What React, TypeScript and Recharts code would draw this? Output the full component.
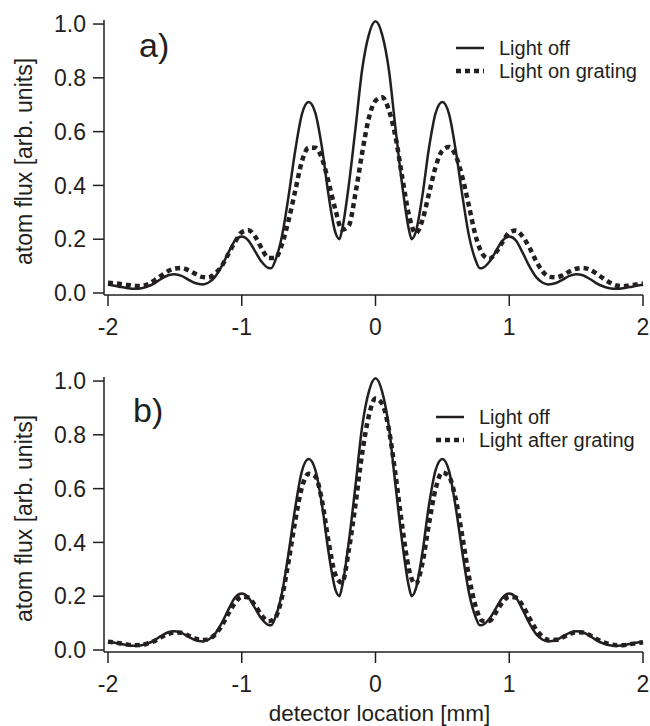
import { LineChart, Line, XAxis, YAxis, Legend, Label } from 'recharts';

const FONT = '"Liberation Sans", Arial, Helvetica, sans-serif';
const INK = '#231f20';

const xTicks = [-2, -1, 0, 1, 2];
const yTicks = [0, 0.2, 0.4, 0.6, 0.8, 1.0];

// light off curve (same in both panels), denser near the minima
const offX = [
  -2, -1.95, -1.9, -1.85, -1.8, -1.75, -1.7, -1.65, -1.6, -1.55, -1.5, -1.45, -1.4, -1.35, -1.29,
  -1.25, -1.2, -1.15, -1.1, -1.05, -1, -0.95, -0.9, -0.85, -0.8, -0.78, -0.75, -0.7, -0.65, -0.6,
  -0.55, -0.5, -0.45, -0.4, -0.35, -0.3, -0.27, -0.25, -0.2, -0.15, -0.1, -0.05, 0,
  0.05, 0.1, 0.15, 0.2, 0.25, 0.27, 0.3, 0.35, 0.4, 0.45, 0.5, 0.55, 0.6, 0.65, 0.7, 0.75, 0.78,
  0.8, 0.85, 0.9, 0.95, 1, 1.05, 1.1, 1.15, 1.2, 1.25, 1.29, 1.35, 1.4, 1.45, 1.5, 1.55, 1.6,
  1.65, 1.7, 1.75, 1.8, 1.85, 1.9, 1.95, 2,
];
const lightOff = [
  0.031, 0.027, 0.022, 0.018, 0.016, 0.018, 0.025, 0.037, 0.053, 0.066, 0.07, 0.064, 0.05, 0.037, 0.032,
  0.038, 0.06, 0.1, 0.15, 0.195, 0.21, 0.195, 0.155, 0.115, 0.093, 0.092, 0.12, 0.21, 0.36, 0.53,
  0.665, 0.71, 0.67, 0.54, 0.36, 0.225, 0.2, 0.235, 0.4, 0.61, 0.83, 0.96, 1.01,
  0.96, 0.83, 0.61, 0.4, 0.235, 0.2, 0.225, 0.36, 0.54, 0.67, 0.71, 0.665, 0.53, 0.36, 0.21, 0.12, 0.092,
  0.093, 0.115, 0.155, 0.195, 0.21, 0.195, 0.15, 0.1, 0.06, 0.038, 0.032, 0.037, 0.05, 0.064, 0.07, 0.066, 0.053,
  0.037, 0.025, 0.018, 0.016, 0.018, 0.022, 0.027, 0.031,
];

const gridX = [
  -2, -1.95, -1.9, -1.85, -1.8, -1.75, -1.7, -1.65, -1.6, -1.55, -1.5, -1.45, -1.4, -1.35, -1.3, -1.25,
  -1.2, -1.15, -1.1, -1.05, -1, -0.95, -0.9, -0.85, -0.8, -0.75, -0.7, -0.65, -0.6, -0.55, -0.5, -0.45,
  -0.4, -0.35, -0.3, -0.25, -0.2, -0.15, -0.1, -0.05, 0, 0.05, 0.1, 0.15, 0.2, 0.25, 0.3, 0.35, 0.4,
  0.45, 0.5, 0.55, 0.6, 0.65, 0.7, 0.75, 0.8, 0.85, 0.9, 0.95, 1, 1.05, 1.1, 1.15, 1.2, 1.25, 1.3,
  1.35, 1.4, 1.45, 1.5, 1.55, 1.6, 1.65, 1.7, 1.75, 1.8, 1.85, 1.9, 1.95, 2,
];
const lightOnGrating = [
  0.038, 0.036, 0.033, 0.03, 0.026, 0.026, 0.033, 0.048, 0.065, 0.082, 0.091, 0.093, 0.085, 0.072, 0.06, 0.058,
  0.072, 0.1, 0.145, 0.19, 0.226, 0.233, 0.21, 0.165, 0.13, 0.13, 0.18, 0.27, 0.38, 0.49, 0.54, 0.54,
  0.5, 0.41, 0.31, 0.235, 0.25, 0.37, 0.52, 0.65, 0.715, 0.728, 0.68, 0.58, 0.43, 0.29, 0.222, 0.27, 0.37,
  0.47, 0.53, 0.543, 0.51, 0.43, 0.32, 0.21, 0.145, 0.127, 0.15, 0.19, 0.225, 0.232, 0.21, 0.17, 0.12, 0.08, 0.06,
  0.058, 0.066, 0.08, 0.09, 0.093, 0.087, 0.073, 0.055, 0.039, 0.028, 0.025, 0.028, 0.032, 0.035,
];
const lightAfterGrating = [
  0.031, 0.028, 0.024, 0.02, 0.018, 0.019, 0.025, 0.034, 0.048, 0.06, 0.065, 0.064, 0.054, 0.043, 0.037, 0.04,
  0.057, 0.09, 0.135, 0.175, 0.198, 0.195, 0.165, 0.128, 0.107, 0.12, 0.195, 0.33, 0.48, 0.605, 0.655, 0.645,
  0.555, 0.4, 0.28, 0.25, 0.37, 0.54, 0.73, 0.87, 0.935, 0.915, 0.82, 0.65, 0.46, 0.3, 0.245, 0.32, 0.47,
  0.6, 0.66, 0.645, 0.56, 0.42, 0.27, 0.16, 0.108, 0.108, 0.14, 0.178, 0.198, 0.195, 0.165, 0.12, 0.077, 0.049, 0.037,
  0.038, 0.047, 0.059, 0.066, 0.065, 0.056, 0.042, 0.03, 0.022, 0.018, 0.018, 0.021, 0.025, 0.029,
];

const offData = offX.map((x, i) => ({ x, y: lightOff[i] }));

const textStyle = { fontSize: 23, fill: INK, fontFamily: FONT };

function LegendBox({ dashedLabel }: { dashedLabel: string }) {
  return (
    <svg width={215} height={48} style={{ display: 'block' }}>
      <line x1={6} y1={12} x2={34} y2={12} stroke={INK} strokeWidth={2.5} />
      <text x={49} y={19} fontSize={20} fill={INK} fontFamily={FONT}>Light off</text>
      <line x1={6} y1={35} x2={34} y2={35} stroke={INK} strokeWidth={4.5} strokeDasharray="5 4" />
      <text x={49} y={42} fontSize={20} fill={INK} fontFamily={FONT}>{dashedLabel}</text>
    </svg>
  );
}

type PanelProps = {
  top: number;
  height: number;
  tag: string;
  tagTop: number;
  tagLeft: number;
  legendLeft: number;
  legendTop: number;
  dashedLabel: string;
  dashedValues: number[];
  xLabel?: string;
};

function Panel(p: PanelProps) {
  const dashedData = gridX.map((x, i) => ({ x, y: p.dashedValues[i] }));
  return (
    <div style={{ position: 'absolute', left: 0, top: p.top, width: 650, height: p.height }}>
      <LineChart width={650} height={p.height} margin={{ top: 20, right: 7, left: 0, bottom: 0 }}>
        <XAxis
          type="number"
          dataKey="x"
          domain={[-2, 2]}
          ticks={xTicks}
          interval={0}
          padding={{ left: 4, right: 0 }}
          height={p.height - 295}
          tickSize={11}
          tickMargin={13}
          tick={textStyle}
          axisLine={{ stroke: INK, strokeWidth: 1.5 }}
          tickLine={{ stroke: INK, strokeWidth: 1.5 }}
        >
          {p.xLabel && (
            <Label
              value={p.xLabel}
              position="insideBottom"
              offset={5}
              dx={6}
              style={{ ...textStyle, fontSize: 22.5 }}
            />
          )}
        </XAxis>
        <YAxis
          type="number"
          dataKey="y"
          domain={[0, 1.015]}
          ticks={yTicks}
          interval={0}
          padding={{ top: 0, bottom: 2 }}
          width={104}
          tickSize={11}
          tickMargin={7}
          tickFormatter={(v: number) => v.toFixed(1)}
          tick={textStyle}
          axisLine={{ stroke: INK, strokeWidth: 1.5 }}
          tickLine={{ stroke: INK, strokeWidth: 1.5 }}
        >
          <Label
            value="atom flux [arb. units]"
            angle={-90}
            position="insideLeft"
            offset={24}
            dy={4}
            style={{ ...textStyle, textAnchor: 'middle' }}
          />
        </YAxis>
        <Legend
          layout="vertical"
          align="center"
          verticalAlign="middle"
          wrapperStyle={{ left: p.legendLeft, top: p.legendTop, width: 215 }}
          content={() => <LegendBox dashedLabel={p.dashedLabel} />}
        />
        <Line
          data={offData}
          dataKey="y"
          type="monotone"
          stroke={INK}
          strokeWidth={2.5}
          dot={false}
          isAnimationActive={false}
        />
        <Line
          data={dashedData}
          dataKey="y"
          type="monotone"
          stroke={INK}
          strokeWidth={4.5}
          strokeDasharray="5 4"
          dot={false}
          isAnimationActive={false}
        />
      </LineChart>
      <div
        style={{
          position: 'absolute',
          left: p.tagLeft,
          top: p.tagTop,
          fontSize: 34,
          lineHeight: '34px',
          color: INK,
          fontFamily: FONT,
        }}
      >
        {p.tag}
      </div>
    </div>
  );
}

export default function App() {
  return (
    <div
      style={{
        position: 'absolute',
        left: 0,
        top: 0,
        width: 650,
        height: 726,
        background: '#fff',
        overflow: 'hidden',
      }}
    >
      <Panel
        top={0}
        height={350}
        tag="a)"
        tagLeft={139}
        tagTop={28}
        legendLeft={450}
        legendTop={36}
        dashedLabel="Light on grating"
        dashedValues={lightOnGrating}
      />
      <Panel
        top={357}
        height={369}
        tag="b)"
        tagLeft={133}
        tagTop={36}
        legendLeft={430}
        legendTop={48}
        dashedLabel="Light after grating"
        dashedValues={lightAfterGrating}
        xLabel="detector location [mm]"
      />
    </div>
  );
}
